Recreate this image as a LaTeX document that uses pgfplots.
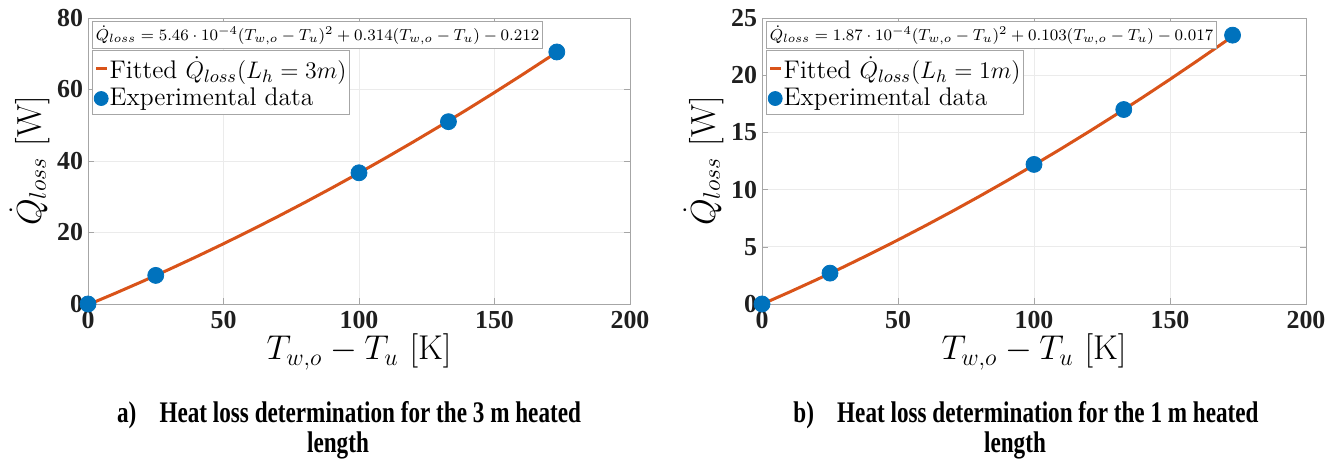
\documentclass[border=0pt]{standalone}
\usepackage[no-math]{fontspec}
\newfontfamily\tnr{Liberation Serif}
\usepackage{graphicx}
\usepackage{pgfplots}
\pgfplotsset{compat=1.18}
\definecolor{mo}{rgb}{0.85,0.325,0.098}
\definecolor{mb}{rgb}{0,0.447,0.741}

\pgfplotstableread{
x y
0 -0.212
10 2.983
20 6.286
30 9.699
40 13.222
50 16.853
60 20.594
70 24.443
80 28.402
90 32.471
100 36.648
110 40.935
120 45.330
130 49.835
140 54.450
150 59.173
160 64.006
170 68.947
173 70.451
}\fitA
\pgfplotstableread{
x y
0 0
25 8.0
100 36.7
133 51.0
173 70.5
}\expA
\pgfplotstableread{
x y
0 -0.017
10 1.032
20 2.118
30 3.241
40 4.402
50 5.601
60 6.836
70 8.109
80 9.420
90 10.768
100 12.153
110 13.576
120 15.036
130 16.533
140 18.068
150 19.641
160 21.251
170 22.897
173 23.399
}\fitB
\pgfplotstableread{
x y
0 0
25 2.7
100 12.2
133 17.0
173 23.5
}\expB

\pgfplotsset{myax/.style={
  scale only axis, width=271bp, height=143bp,
  xmin=0, xmax=200, xtick={0,50,...,200},
  axis line style={black!35}, grid=major, grid style={black!8},
  tick style={black!35}, tick align=inside, major tick length=3bp,
  tick label style={font=\tnr\bfseries\fontsize{13}{15}\selectfont, text=black!88},
  yticklabel style={xshift=1bp},
  /pgf/number format/assume math mode=true,
  xlabel={$T_{w,o}-T_u\ [\mathrm{K}]$},
  ylabel={$\dot{Q}_{loss}\ [\mathrm{W}]$},
  xlabel style={font=\fontsize{18.2}{20}\selectfont, yshift=4bp},
  ylabel style={font=\fontsize{18.8}{20}\selectfont, yshift=-3bp},
  legend style={at={(0.007,0.887)}, anchor=north west, draw=black!35,
    font=\fontsize{12.8}{14.5}\selectfont, inner sep=0.8bp, row sep=-0.5bp,
    nodes={inner xsep=0.5bp},
    /tikz/every even column/.append style={column sep=0pt}},
  legend cell align=left,
  clip=false,
}}

\begin{document}
\begin{tikzpicture}
\useasboundingbox (0,0) rectangle (669bp,231.5bp);

\begin{axis}[myax, at={(44bp,79.5bp)}, anchor=south west,
  ymin=0, ymax=80, ytick={0,20,...,80}]
\addplot[mo, line width=1.5bp,
  legend image code/.code={\draw[mo,line width=1.5bp] (0bp,0bp) -- (5.5bp,0bp);}]
  table[x=x,y=y] {\fitA};
\addlegendentry{Fitted $\dot{Q}_{loss}(L_h=3m)$}
\addplot[only marks, mark=*, mark size=4bp, mb, mark options={draw=mb, fill=mb},
  legend image code/.code={\fill[mb] (2.5bp,0bp) circle (3.5bp);}]
  table[x=x,y=y] {\expA};
\addlegendentry{Experimental data}
\node[draw=black!35, fill=white, anchor=north west, inner sep=1.8bp,
  font=\fontsize{8.2}{10}\selectfont] at (rel axis cs:0.007,0.988)
  {$\dot{Q}_{loss}=5.46\cdot10^{-4}(T_{w,o}-T_u)^2+0.314(T_{w,o}-T_u)-0.212$};
\end{axis}

\begin{axis}[myax, at={(381bp,79.5bp)}, anchor=south west, width=272bp,
  ymin=0, ymax=25, ytick={0,5,...,25}]
\addplot[mo, line width=1.5bp,
  legend image code/.code={\draw[mo,line width=1.5bp] (0bp,0bp) -- (5.5bp,0bp);}]
  table[x=x,y=y] {\fitB};
\addlegendentry{Fitted $\dot{Q}_{loss}(L_h=1m)$}
\addplot[only marks, mark=*, mark size=4bp, mb, mark options={draw=mb, fill=mb},
  legend image code/.code={\fill[mb] (2.5bp,0bp) circle (3.5bp);}]
  table[x=x,y=y] {\expB};
\addlegendentry{Experimental data}
\node[draw=black!35, fill=white, anchor=north west, inner sep=1.8bp,
  font=\fontsize{8.2}{10}\selectfont] at (rel axis cs:0.007,0.988)
  {$\dot{Q}_{loss}=1.87\cdot10^{-4}(T_{w,o}-T_u)^2+0.103(T_{w,o}-T_u)-0.017$};
\end{axis}

\node[font=\tnr\bfseries\fontsize{15}{17}\selectfont] at (174.5bp,24bp)
  {\scalebox{0.775}[1]{a)\hspace{15bp}Heat loss determination for the 3 m heated}};
\node[font=\tnr\bfseries\fontsize{15}{17}\selectfont] at (169bp,9bp)
  {\scalebox{0.775}[1]{length}};
\node[font=\tnr\bfseries\fontsize{15}{17}\selectfont] at (513bp,24bp)
  {\scalebox{0.775}[1]{b)\hspace{15bp}Heat loss determination for the 1 m heated}};
\node[font=\tnr\bfseries\fontsize{15}{17}\selectfont] at (507.5bp,9bp)
  {\scalebox{0.775}[1]{length}};
\end{tikzpicture}
\end{document}
